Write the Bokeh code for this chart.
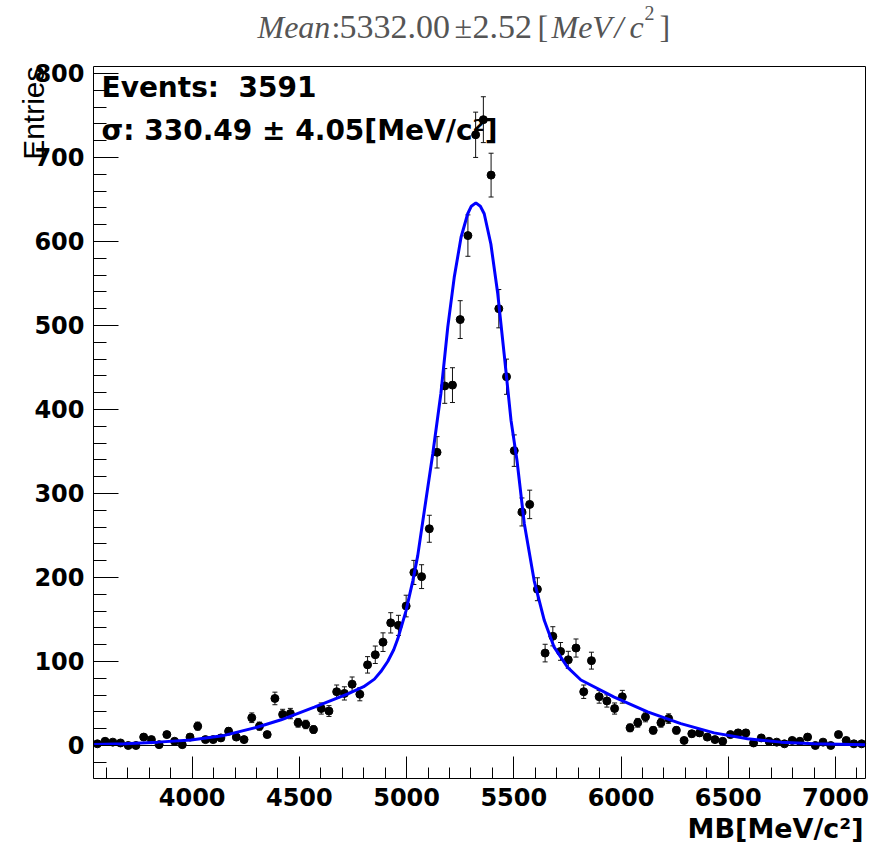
import numpy as np
from bokeh.plotting import figure
from bokeh.models import FixedTicker, Label, Title, BoxAnnotation
from bokeh.embed import file_html
from bokeh.resources import INLINE

# ---------------- data ----------------
bin_low = 3540.0
bin_width = 36.0
counts = [2, 5, 4, 3, 0, 0, 10, 7, 1, 13,
          5, 1, 10, 23, 7, 7, 9, 17, 10, 7,
          33, 23, 13, 56, 37, 38, 27, 25, 19, 44,
          41, 64, 62, 73, 61, 96, 108, 123, 146, 143,
          166, 206, 201, 258, 349, 428, 429, 507, 607, 727,
          745, 679, 520, 439, 351, 278, 287, 186, 110, 130,
          112, 102, 116, 64, 101, 58, 53, 44, 58, 21,
          27, 34, 18, 27, 32, 18, 6, 14, 15, 10,
          7, 5, 13, 15, 15, 3, 9, 5, 4, 2,
          6, 5, 10, 0, 4, 0, 13, 6, 2, 2]

fit_x = [3543, 3685, 3840, 3995, 4150, 4306, 4415, 4570, 4726, 4800,
         4850, 4880, 4912, 4940, 4959, 4997, 5029, 5052, 5090, 5122,
         5160, 5192, 5222, 5254, 5285, 5302, 5323, 5344, 5362, 5393,
         5425, 5455, 5487, 5515, 5549, 5595, 5642, 5688, 5751, 5813,
         5968, 6124, 6279, 6434, 6590, 6745, 6900, 7138]
fit_y = [1.2, 2, 4, 6.5, 12, 22, 30.6, 45.6, 61.5, 70,
         79, 88, 100, 114, 127, 160, 196, 226, 292, 347,
         419, 498, 557, 605, 633, 642, 646, 642, 633, 597,
         538, 466, 387, 339, 264, 196, 149, 117, 93, 78,
         57.5, 40, 26, 15, 8, 4, 2, 1]

x_major = list(range(4000, 7001, 500))
x_minor = list(range(3600, 7101, 100))
y_major = list(range(0, 801, 100))
y_minor = list(range(-20, 801, 20))

title_parts = ["Mean", ":", "5332.00", "\u00b1", "2.52", "[", "MeV", "/", "c", "2", "]"]
stat_lines = ["Events:\u00a0 3591", "\u03c3: 330.49 \u00b1 4.05[MeV/c\u00b2]"]
xtitle = "MB[MeV/c\u00b2]"
ytitle = "Entries"

# ---------------- layout ----------------
X0, X1 = 3540.0, 7140.0          # histogram axis range
Y0, Y1 = -39.3, 808.3
FL, FR, FT, FB = 93, 865, 66, 778  # pixel box of the histogram frame
W, H = 893, 852
EXTRA_R = 8                      # frame drawn a bit wider so the box edge is not clipped
xs_per_px = (X1 - X0) / (FR - FL)
ys_per_px = (Y1 - Y0) / (FB - FT)


def X(px):
    return X0 + (px - FL) * xs_per_px


def Y(py):
    return Y0 + (FB - py) * ys_per_px


centers = bin_low + bin_width * (np.arange(len(counts)) + 0.5)
cnt = np.array(counts, dtype=float)
err = np.sqrt(cnt)

p = figure(width=W, height=H, x_range=(X0, X1 + EXTRA_R * xs_per_px),
           y_range=(Y0, Y1 + FT * ys_per_px), title=None,
           output_backend="svg", toolbar_location=None,
           min_border_left=FL, min_border_right=W - FR - EXTRA_R,
           min_border_top=0, min_border_bottom=H - FB)
p.grid.visible = False
p.outline_line_color = None
p.background_fill_color = "white"
p.border_fill_color = "white"

for ax, maj, mnr, tin, min_in, bnd in ((p.xaxis[0], x_major, x_minor, 22, 11, (X0, X1)),
                                       (p.yaxis[0], y_major, y_minor, 25, 13, (Y0, Y1))):
    ax.ticker = FixedTicker(ticks=maj, minor_ticks=mnr)
    ax.bounds = bnd
    ax.major_tick_in = tin
    ax.major_tick_out = 0
    ax.minor_tick_in = min_in
    ax.minor_tick_out = 0
    ax.axis_line_color = "black"
    ax.major_tick_line_color = "black"
    ax.minor_tick_line_color = "black"
    ax.major_label_text_font = "DejaVu Sans"
    ax.major_label_text_font_style = "bold"
    ax.major_label_text_font_size = "24px"
    ax.major_label_text_color = "black"
    ax.major_label_standoff = 9

# histogram frame box
p.add_layout(BoxAnnotation(left=X0, right=X1, bottom=Y0, top=Y1, fill_color=None,
                           fill_alpha=0, line_color="black", line_width=1, line_alpha=1))
# zero line
p.segment(x0=[X0], y0=[0], x1=[X1], y1=[0], line_color="black", line_width=1)

# error bars, caps, markers
p.segment(x0=centers, y0=cnt - err, x1=centers, y1=cnt + err, line_color="#111111", line_width=1)
mask = err > 0
p.scatter(centers[mask], (cnt + err)[mask], marker="dash", size=5, line_color="#111111", line_width=1)
p.scatter(centers[mask], (cnt - err)[mask], marker="dash", size=5, line_color="#111111", line_width=1)
p.scatter(centers, cnt, marker="circle", size=8, fill_color="black", line_color="black")

# fit curve
p.line(fit_x, fit_y, line_color="#0000ff", line_width=3)

BASE_FIX = 11  # rendered baseline sits this many px below the requested one


def label(text, px, py, **kw):
    p.add_layout(Label(x=X(px), y=Y(py - BASE_FIX), text=text,
                       text_baseline="alphabetic", text_align="left", **kw))


# title (pieces, drawn in the space above the histogram box)
tcol = "#555555"
tfont = "Liberation Serif"
tpos = [257, 331, 339, 454, 472, 537, 551, 614, 629, 644, 659]
tstyle = ["italic", "normal", "normal", "normal", "normal", "normal", "italic", "italic", "italic", "normal", "normal"]
tsize = ["32px", "32px", "34px", "32px", "34px", "32px", "32px", "32px", "32px", "20px", "32px"]
for i, (txt, px, st, sz) in enumerate(zip(title_parts, tpos, tstyle, tsize)):
    label(txt, px, 23 if i == 9 else 37, text_font=tfont, text_font_style=st,
          text_font_size=sz, text_color=tcol)

# stats text
for line, base in zip(stat_lines, [98, 141]):
    label(line, 101, base, text_font="DejaVu Sans", text_font_style="bold",
          text_font_size="28px", text_color="black")

# axis titles
p.add_layout(Title(text=xtitle, align="right", offset=10, standoff=4,
                   text_font="DejaVu Sans", text_font_style="bold", text_font_size="27px",
                   text_color="black"), "below")
p.add_layout(Title(text=ytitle, align="right", offset=66, standoff=-36,
                   text_font="Liberation Sans", text_font_style="normal", text_font_size="30px",
                   text_color="black"), "left")

open("out.html", "w").write(file_html(p, INLINE))
